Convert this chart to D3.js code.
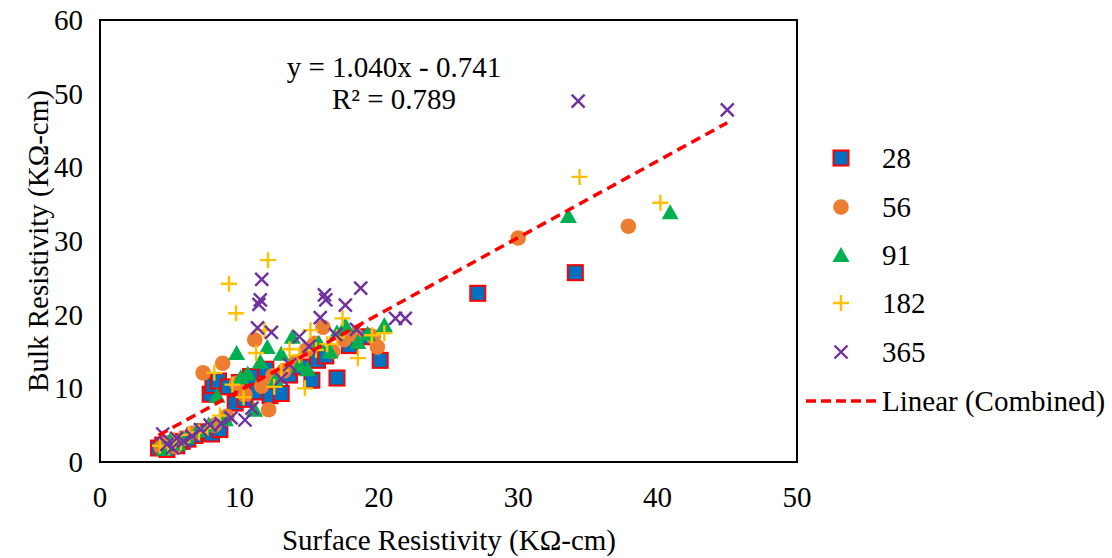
<!DOCTYPE html>
<html>
<head>
<meta charset="utf-8">
<script src="https://cdn.jsdelivr.net/npm/d3@7"></script>
<style>
  body { margin: 0; background: #fff; }
  svg { display: block; font-family: "Liberation Serif", "Times New Roman", serif; }
</style>
</head>
<body>
<svg id="chart" width="1112" height="558"></svg>
<script>
// ---- Data ----
const seriesNames = ["28", "56", "91", "182", "365"];

const s28 = [[4.2,1.9],[4.5,2.3],[4.8,1.7],[5.1,2.4],[5.5,2.2],[5.9,2.8],[6.3,3.1],[6.8,3.6],[7.5,4.1],[8.0,3.8],[8.6,4.4],
  [7.9,9.2],[8.1,10.4],[8.5,11.0],[9.2,10.2],[9.7,8.0],[10.0,10.8],[10.4,8.5],[10.8,11.6],[11.3,9.5],[11.9,12.6],[12.2,9.0],
  [13.0,9.3],[13.6,11.8],[14.5,12.9],[15.2,11.1],[15.6,13.8],[16.2,14.4],[17.0,11.4],[17.9,15.8],[19.0,17.0],[20.1,13.8],
  [27.1,22.9],[34.1,25.7]];
const s56 = [[4.4,2.0],[4.9,2.6],[5.4,2.1],[6.0,3.2],[6.6,3.9],[7.4,12.1],[8.8,13.4],[8.2,5.0],[9.1,6.2],[9.8,10.7],[10.4,9.1],
  [11.1,16.6],[11.6,10.3],[12.1,7.1],[12.4,11.7],[13.2,12.4],[14.0,13.5],[14.8,15.2],[15.4,16.1],[16.0,18.3],[16.7,15.0],
  [17.5,16.6],[18.3,17.3],[19.6,17.0],[19.9,15.6],[30.0,30.4],[37.9,32.0]];
const s91 = [[4.6,1.8],[5.0,2.9],[5.6,2.5],[6.2,3.4],[7.0,4.3],[7.8,5.1],[8.4,9.0],[9.0,5.8],[9.8,14.8],[10.1,11.5],[10.6,12.0],
  [11.1,7.1],[11.5,13.6],[12.0,15.6],[12.6,11.2],[13.0,14.7],[13.8,17.0],[14.3,13.2],[14.9,12.6],[15.7,16.2],[16.5,15.0],
  [17.0,17.6],[17.6,18.6],[18.5,16.3],[19.2,17.4],[20.4,18.6],[33.6,33.4],[40.9,33.9]];
const s182 = [[4.3,2.2],[4.9,2.0],[5.3,3.0],[5.8,2.7],[6.4,3.7],[7.1,4.0],[7.7,4.6],[8.2,12.1],[8.6,6.3],[9.25,24.2],[9.76,20.2],
  [9.5,10.5],[10.3,8.8],[11.2,14.8],[11.8,17.9],[12.05,27.4],[12.5,10.2],[13.0,12.4],[13.6,15.3],[14.3,14.5],[14.7,10.0],
  [15.1,17.9],[15.5,15.2],[16.3,16.0],[17.0,16.9],[17.4,19.5],[18.5,14.1],[19.5,17.2],[20.4,17.5],[34.4,38.7],[40.2,35.2]];
const s365 = [[4.5,3.8],[4.8,2.4],[5.2,1.9],[5.5,3.2],[6.0,2.8],[6.6,3.5],[7.2,4.4],[7.9,5.0],[8.7,5.2],[9.4,6.0],[10.4,5.7],
  [10.9,7.3],[11.3,18.2],[11.4,21.4],[11.5,22.0],[11.6,24.8],[12.3,17.6],[13.0,11.3],[13.6,13.2],[14.3,17.0],[15.0,15.7],
  [15.8,19.6],[16.1,22.7],[16.2,22.0],[16.9,17.3],[17.6,21.3],[18.4,18.0],[18.7,23.6],[21.2,19.5],[21.9,19.5],[34.3,49.0],[45.0,47.8]];

const xTicks = [0, 10, 20, 30, 40, 50];
const yTicks = [0, 10, 20, 30, 40, 50, 60];
const trendSlope = 1.040, trendIntercept = -0.741;
const equationLines = ["y = 1.040x - 0.741", "R² = 0.789"];
const xTitle = "Surface Resistivity (KΩ-cm)";
const yTitle = "Bulk Resistivity (KΩ-cm)";
const trendName = "Linear (Combined)";

// ---- Layout ----
const svg = d3.select("#chart");
const L = 100, R = 797, T = 20, B = 462;
const FS = 29;
const x = d3.scaleLinear().domain([0, 50]).range([L, R]);
const y = d3.scaleLinear().domain([0, 60]).range([B, T]);

const styles = [
  {type: "square", fill: "#0070C0", stroke: "#FF0000"},
  {type: "circle", fill: "#ED7D31", stroke: "none"},
  {type: "triangle", fill: "#00B050", stroke: "none"},
  {type: "plus", fill: "none", stroke: "#FFC000"},
  {type: "cross", fill: "none", stroke: "#7030A0"}
];
const allSeries = [s28, s56, s91, s182, s365];

function drawMarker(g, st) {
  if (st.type === "square") {
    g.append("rect").attr("x", -7.5).attr("y", -7.5).attr("width", 15).attr("height", 15)
      .attr("fill", st.fill).attr("stroke", st.stroke).attr("stroke-width", 2);
  } else if (st.type === "circle") {
    g.append("circle").attr("r", 7.8).attr("fill", st.fill);
  } else if (st.type === "triangle") {
    g.append("path").attr("d", "M0,-8 L8.5,7 L-8.5,7 Z").attr("fill", st.fill);
  } else if (st.type === "plus") {
    g.append("path").attr("d", "M-8,0 L8,0 M0,-8 L0,8").attr("stroke", st.stroke).attr("stroke-width", 2.4).attr("fill", "none");
  } else {
    g.append("path").attr("d", "M-6.5,-6.5 L6.5,6.5 M-6.5,6.5 L6.5,-6.5").attr("stroke", st.stroke).attr("stroke-width", 2.4).attr("fill", "none");
  }
}

// Points
allSeries.forEach((data, i) => {
  const g = svg.append("g");
  data.forEach(d => {
    const m = g.append("g").attr("transform", `translate(${x(d[0])},${y(d[1])})`);
    drawMarker(m, styles[i]);
  });
});

// Trendline
const allX = allSeries.flat().map(d => d[0]);
const xMin = d3.min(allX), xMax = d3.max(allX);
svg.append("line")
  .attr("x1", x(xMin)).attr("y1", y(trendSlope * xMin + trendIntercept))
  .attr("x2", x(xMax)).attr("y2", y(trendSlope * xMax + trendIntercept))
  .attr("stroke", "#FF0000").attr("stroke-width", 3.5).attr("stroke-dasharray", "10,6");

// Frame
svg.append("rect").attr("x", L).attr("y", T).attr("width", R - L).attr("height", B - T)
  .attr("fill", "none").attr("stroke", "#000").attr("stroke-width", 2);

// Tick labels
svg.append("g").selectAll("text").data(xTicks).join("text")
  .attr("x", d => x(d)).attr("y", 507).attr("text-anchor", "middle")
  .attr("font-size", FS).attr("fill", "#000").text(d => d);
svg.append("g").selectAll("text").data(yTicks).join("text")
  .attr("x", 83).attr("y", d => y(d)).attr("dy", "0.35em").attr("text-anchor", "end")
  .attr("font-size", FS).attr("fill", "#000").text(d => d);

// Axis titles
svg.append("text").attr("x", 449).attr("y", 550).attr("text-anchor", "middle")
  .attr("font-size", FS).attr("fill", "#000").text(xTitle);
svg.append("text").attr("transform", "translate(38,241) rotate(-90)").attr("dy", "0.35em").attr("text-anchor", "middle")
  .attr("font-size", FS).attr("fill", "#000").text(yTitle);

// Equation
equationLines.forEach((t, i) => {
  svg.append("text").attr("x", 394).attr("y", 77 + i * 32).attr("text-anchor", "middle")
    .attr("font-size", FS).attr("fill", "#000").text(t);
});

// Legend
const legY = [158, 207, 255, 303, 352];
seriesNames.forEach((name, i) => {
  const m = svg.append("g").attr("transform", `translate(841,${legY[i]})`);
  drawMarker(m, styles[i]);
  svg.append("text").attr("x", 882).attr("y", legY[i]).attr("dy", "0.35em")
    .attr("font-size", FS).attr("fill", "#000").text(name);
});
svg.append("line").attr("x1", 806).attr("x2", 876).attr("y1", 401).attr("y2", 401)
  .attr("stroke", "#FF0000").attr("stroke-width", 3.5).attr("stroke-dasharray", "10,5");
svg.append("text").attr("x", 882).attr("y", 401).attr("dy", "0.35em")
  .attr("font-size", FS).attr("fill", "#000").text(trendName);
</script>
</body>
</html>
